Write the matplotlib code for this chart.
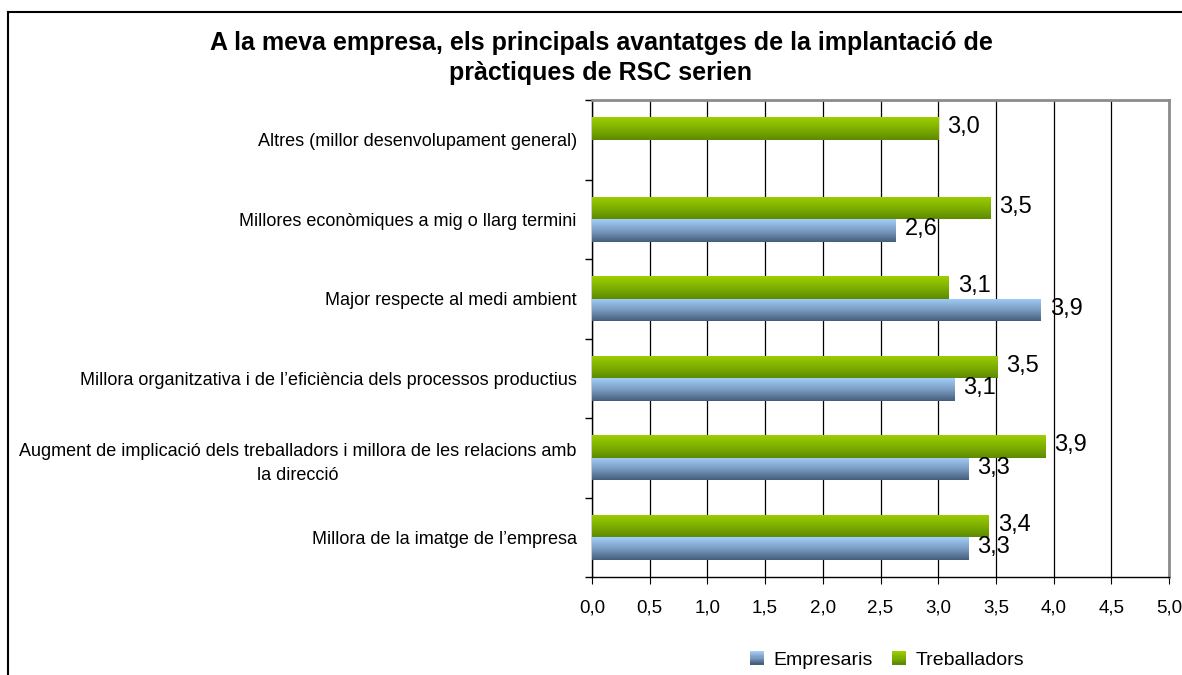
import numpy as np
import matplotlib
matplotlib.use("Agg")
import matplotlib.pyplot as plt
from matplotlib.colors import LinearSegmentedColormap
from matplotlib.patches import Rectangle
from matplotlib.legend_handler import HandlerBase
from matplotlib.lines import Line2D

plt.rcParams['font.family'] = ['Liberation Sans', 'DejaVu Sans']

# dades (de baix a dalt)
categories = [
    "Millora de la imatge de l\u2019empresa",
    "Augment de implicació dels treballadors i millora de les relacions amb\nla direcció",
    "Millora organitzativa i de l\u2019eficiència dels processos productius",
    "Major respecte al medi ambient",
    "Millores econòmiques a mig o llarg termini",
    "Altres (millor desenvolupament general)",
]
empresaris = [3.26, 3.26, 3.14, 3.89, 2.63, np.nan]
treballadors = [3.44, 3.93, 3.51, 3.09, 3.45, 3.0]
xticks = np.arange(0, 5.01, 0.5)

titol = "A la meva empresa, els principals avantatges de la implantació de\npràctiques de RSC serien"

cmap_blue = LinearSegmentedColormap.from_list('b', ['#A2CDF8', '#7B9DC2', '#455E7C'])
cmap_green = LinearSegmentedColormap.from_list('g', ['#9DCF00', '#7FB000', '#5E8A00'])


def fmt(v):
    return ('%.1f' % v).replace('.', ',')


class GradHandler(HandlerBase):
    def __init__(self, cmap):
        super().__init__()
        self.cmap = cmap

    def create_artists(self, legend, orig_handle, xdescent, ydescent,
                       width, height, fontsize, trans):
        n = 12
        s = height
        x0 = -xdescent + (width - s) / 2
        y0 = -ydescent
        arts = []
        for i in range(n):
            r = Rectangle((x0, y0 + s * (1 - (i + 1) / n)), s, s / n + 0.3,
                          facecolor=self.cmap(i / (n - 1)), lw=0, transform=trans)
            arts.append(r)
        return arts


fig = plt.figure(figsize=(11.82, 6.75), dpi=100)
ax = fig.add_axes([592 / 1182, 1 - 577 / 675, 577 / 1182, 477 / 675])

y = np.arange(len(categories))
h = 0.285
b_blue = ax.barh(y - h / 2, empresaris, height=h, color='#7B9DC2', zorder=3)
b_green = ax.barh(y + h / 2, treballadors, height=h, color='#7FB000', zorder=3)

grad = np.linspace(0, 1, 64).reshape(-1, 1)
for cont, cm in [(b_blue, cmap_blue), (b_green, cmap_green)]:
    for p in cont.patches:
        w = p.get_width()
        if not np.isfinite(w) or w == 0:
            continue
        x0, y0 = p.get_x(), p.get_y()
        im = ax.imshow(grad, extent=[x0, x0 + w, y0, y0 + p.get_height()],
                       cmap=cm, aspect='auto', origin='upper', zorder=4)
        im.set_clip_path(p)

# etiquetes de dades
for vals, off in [(empresaris, -h / 2), (treballadors, h / 2)]:
    for i, v in enumerate(vals):
        if np.isnan(v):
            continue
        ax.annotate(fmt(v), (v, i + off), xytext=(6.5, 1), textcoords='offset points',
                    ha='left', va='center', fontsize=17, zorder=5)

ax.set_xlim(0, 5)
ax.set_ylim(-0.5, len(categories) - 0.5)
ax.set_xticks(xticks)
ax.set_xticklabels([fmt(t) for t in xticks], fontsize=13.5)
ax.set_yticks(y)
ax.set_yticklabels(categories, fontsize=13, multialignment='center')
for lab in ax.get_yticklabels():
    lab.set_linespacing(1.55)
ax.set_yticks(np.arange(-0.5, len(categories), 1), minor=True)
ax.tick_params(axis='y', which='major', length=0, pad=11)
ax.tick_params(axis='y', which='minor', length=5, direction='out', width=1)
ax.tick_params(axis='x', length=5, direction='out', pad=11)

ax.grid(axis='x', color='black', linewidth=0.9, zorder=1)
ax.set_axisbelow(True)
for s in ['top', 'right']:
    ax.spines[s].set_color('#8C8C8C')
    ax.spines[s].set_linewidth(2)
for s in ['left', 'bottom']:
    ax.spines[s].set_color('black')
    ax.spines[s].set_linewidth(1)

fig.text(601 / 1182, 1 - 58 / 675, titol, ha='center', va='center',
         fontsize=18, fontweight='bold', linespacing=1.32)

fig.legend([b_blue, b_green], ['Empresaris', 'Treballadors'], loc='center',
           bbox_to_anchor=(887 / 1182, 1 - 660 / 675), ncol=2, frameon=False,
           fontsize=14, handlelength=0.7, handleheight=0.7, handletextpad=0.5,
           columnspacing=1.0,
           handler_map={b_blue: GradHandler(cmap_blue), b_green: GradHandler(cmap_green)})

# marc exterior
fig.add_artist(Line2D([8 / 1182, 8 / 1182], [0, 1 - 12 / 675], color='black', lw=1.5,
                      transform=fig.transFigure))
fig.add_artist(Line2D([8 / 1182, 1], [1 - 12 / 675, 1 - 12 / 675], color='black', lw=1.5,
                      transform=fig.transFigure))

fig.savefig('out.png', dpi=100)
